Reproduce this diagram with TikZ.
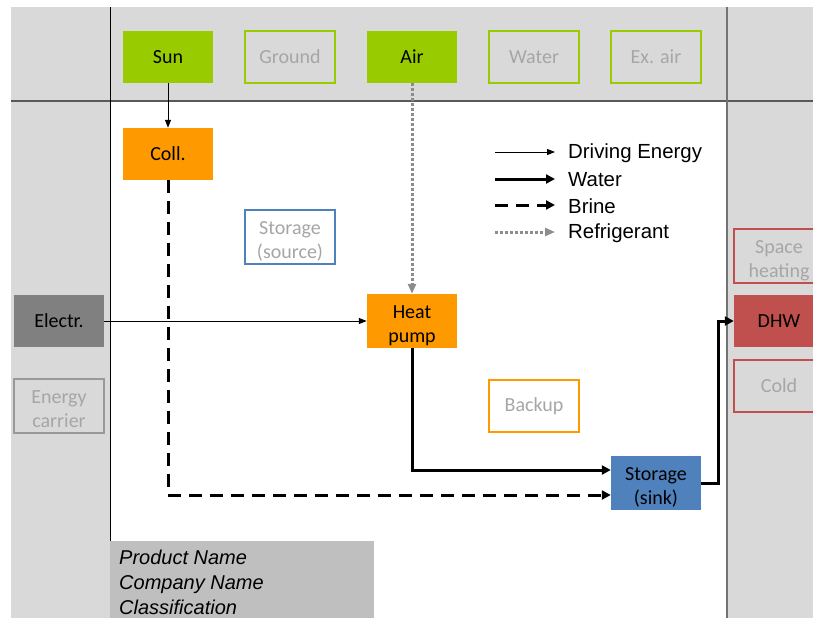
\documentclass[tikz,border=0pt]{standalone}
\usepackage{fontspec}
\setmainfont{Carlito}
\newfontfamily\legendfont{Liberation Sans}
\usetikzlibrary{arrows.meta,calc}

\definecolor{panelgray}{HTML}{D9D9D9}
\definecolor{infogray}{HTML}{BFBFBF}
\definecolor{ghosttext}{HTML}{A6A6A6}
\definecolor{srcgreen}{HTML}{99CC00}
\definecolor{convorange}{HTML}{FF9900}
\definecolor{storblue}{HTML}{4F81BD}
\definecolor{sinkred}{HTML}{C0504D}
\definecolor{elecgray}{HTML}{808080}
\definecolor{refrgray}{HTML}{8C8C8C}

% struts giving two-line labels evenly spaced line boxes
\newcommand\firstln{\rule{0pt}{24pt}}
\newcommand\lastln{\rule[-6pt]{0pt}{6pt}}

\begin{document}
\begin{tikzpicture}[x=1pt,y=-1pt,
  box/.style={minimum width=90pt, minimum height=52pt, inner sep=0pt,
    align=center, font=\fontsize{20}{24}\selectfont},
  solidbox/.style={box, fill=#1},
  ghostbox/.style={box, draw=#1, line width=2pt, text=ghosttext},
  drive/.style={line width=1pt, -{Triangle[length=8pt,width=6pt]}},
  water/.style={line width=3pt, -{Triangle[length=9pt,width=9pt]}},
  brine/.style={line width=3pt, dash pattern=on 13pt off 8pt,
    -{Triangle[length=9pt,width=9pt]}},
  refr/.style={refrgray, line width=3pt, dash pattern=on 3pt off 2pt,
    -{Triangle[length=10pt,width=8pt]}},
  legendtext/.style={anchor=west, inner sep=0pt,
    font=\legendfont\fontsize{20.4}{24}\selectfont}
]
\clip (0,0) rectangle (813,618);

% background panels and separators
\fill[white] (0,0) rectangle (813,618);
\fill[panelgray] (11,7) rectangle (813,101);
\fill[panelgray] (11,101) rectangle (110,618);
\fill[panelgray] (727,101) rectangle (813,618);
\draw[black!65, line width=2pt] (11,101) -- (813,101);
\draw[black, line width=1pt] (110,7) -- (110,618);
\draw[black!55, line width=2pt] (727,7) -- (727,618);

% energy sources
\node[solidbox=srcgreen] (sun) at (168,57) {Sun};
\node[ghostbox=srcgreen] (ground) at (290,57) {Ground};
\node[solidbox=srcgreen] (air) at (412,57) {Air};
\node[ghostbox=srcgreen] (water) at (534,57) {Water};
\node[ghostbox=srcgreen] (exair) at (656,57) {Ex. air};

% energy carriers
\node[solidbox=elecgray] (electr) at (59,321) {Electr.};
\node[ghostbox=black!40] (carrier) at (59,406) {\firstln Energy\\carrier\lastln};

% components
\node[solidbox=convorange] (coll) at (168,154) {Coll.};
\node[ghostbox=storblue] (storsrc) at (290,237) {\firstln Storage\\(source)\lastln};
\node[solidbox=convorange] (hp) at (412,321) {\firstln Heat\\pump\lastln};
\node[ghostbox=convorange] (backup) at (534,406) {Backup};
\node[solidbox=storblue] (sink) at (656,483) {\firstln Storage\\(sink)\lastln};

% demands
\node[ghostbox=sinkred] (space) at (779,256) {\firstln Space\\heating\lastln};
\node[solidbox=sinkred] (dhw) at (779,321) {DHW};
\node[ghostbox=sinkred] (cold) at (779,386) {Cold};

% flows
\draw[drive] (sun) -- (coll);
\draw[refr] (air) -- (hp);
\draw[drive] (electr) -- (hp);
\draw[brine] (coll.south) |- ($(sink.west)+(0,12)$);
\draw[water] (hp.south) |- ($(sink.west)+(0,-13)$);
\draw[water] (sink.east) -- ++(17,0) |- (dhw.west);

% legend
\coordinate (l1a) at (495,152); \coordinate (l1b) at (555,152);
\coordinate (l2a) at (495,179); \coordinate (l2b) at (555,179);
\coordinate (l3a) at (495,205); \coordinate (l3b) at (555,205);
\coordinate (l4a) at (495,232); \coordinate (l4b) at (555,232);
\draw[drive] (l1a) -- (l1b);
\draw[water] (l2a) -- (l2b);
\draw[brine] (l3a) -- (l3b);
\draw[refr] (l4a) -- (l4b);
\node[legendtext] (t1) at (568,153) {Driving Energy};
\node[legendtext] (t2) at (568,180) {Water};
\node[legendtext] (t3) at (568,206) {Brine};
\node[legendtext] (t4) at (568,233) {Refrigerant};

% product information
\fill[infogray] (110,541) rectangle (374,618);
\node[anchor=north west, inner sep=0pt, align=left,
  font=\legendfont\itshape\fontsize{20}{25}\selectfont] (info) at (119,550)
  {Product Name\\Company Name\\Classification};
\end{tikzpicture}
\end{document}
